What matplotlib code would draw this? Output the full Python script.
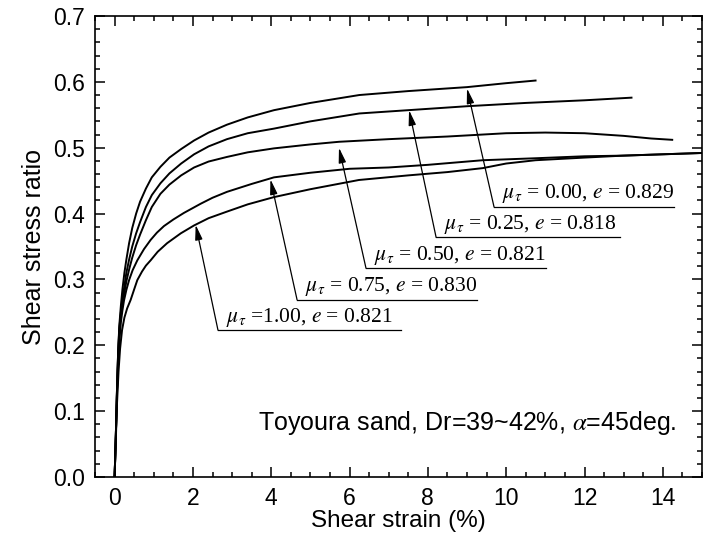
import matplotlib
matplotlib.use('Agg')
import matplotlib.pyplot as plt
import numpy as np

plt.rcParams['font.family'] = ['Liberation Sans', 'DejaVu Sans']
plt.rcParams['mathtext.fontset'] = 'stix'

# strain (%) / stress ratio
x_mu000 = [0, 0.03, 0.06, 0.09, 0.12, 0.16, 0.2, 0.25, 0.3, 0.37, 0.45, 0.55, 0.65, 0.8, 0.95, 1.17, 1.4, 1.7,
           2.03, 2.4, 2.87, 3.4, 4.07, 5.0, 6.25, 7.5, 9.0, 10.0, 10.75]
y_mu000 = [0, 0.06, 0.13, 0.19, 0.23, 0.26, 0.285, 0.31, 0.33, 0.355, 0.378, 0.4, 0.418, 0.438, 0.455, 0.471, 0.485, 0.498,
           0.511, 0.523, 0.535, 0.546, 0.557, 0.568, 0.58, 0.586, 0.592, 0.598, 0.602]

x_mu025 = [0, 0.03, 0.06, 0.09, 0.12, 0.16, 0.2, 0.25, 0.3, 0.37, 0.45, 0.55, 0.65, 0.8, 0.95, 1.17, 1.4, 1.7,
           2.03, 2.4, 2.87, 3.4, 4.07, 5.0, 6.25, 7.5, 9.0, 10.5, 12.0, 13.2]
y_mu025 = [0, 0.06, 0.13, 0.19, 0.225, 0.25, 0.27, 0.29, 0.31, 0.33, 0.35, 0.37, 0.387, 0.41, 0.428, 0.446, 0.461, 0.476,
           0.49, 0.502, 0.513, 0.522, 0.529, 0.54, 0.552, 0.557, 0.563, 0.568, 0.572, 0.576]

x_mu050 = [0, 0.03, 0.06, 0.09, 0.12, 0.16, 0.2, 0.25, 0.3, 0.37, 0.45, 0.55, 0.65, 0.8, 0.95, 1.17, 1.4, 1.7,
           2.03, 2.4, 2.87, 3.4, 4.07, 5.0, 5.73, 7.0, 8.5, 10.0, 11.0, 12.0, 13.0, 13.7, 14.24]
y_mu050 = [0, 0.06, 0.13, 0.185, 0.22, 0.245, 0.262, 0.28, 0.297, 0.315, 0.333, 0.352, 0.368, 0.39, 0.41, 0.43, 0.444, 0.458,
           0.47, 0.479, 0.486, 0.493, 0.499, 0.505, 0.509, 0.513, 0.517, 0.522, 0.523, 0.522, 0.518, 0.514, 0.512]

x_mu075 = [0, 0.03, 0.06, 0.09, 0.12, 0.16, 0.2, 0.24, 0.3, 0.37, 0.46, 0.58, 0.75, 0.92, 1.08, 1.26, 1.5, 1.77,
           2.2, 2.5, 2.87, 3.5, 4.07, 5.0, 6.0, 7.0, 8.0, 9.4, 10.75, 12.0, 13.0, 14.0, 15.0]
y_mu075 = [0, 0.06, 0.125, 0.175, 0.205, 0.235, 0.253, 0.268, 0.284, 0.299, 0.314, 0.329, 0.346, 0.36, 0.371, 0.381, 0.391, 0.401,
           0.415, 0.424, 0.433, 0.445, 0.455, 0.462, 0.468, 0.47, 0.474, 0.481, 0.484, 0.487, 0.488, 0.49, 0.492]

x_mu100 = [0, 0.03, 0.06, 0.1, 0.14, 0.19, 0.25, 0.32, 0.41, 0.5, 0.58, 0.7, 0.8, 0.92, 1.1, 1.34, 1.69,
           2.03, 2.4, 2.87, 3.4, 4.07, 5.0, 6.24, 7.5, 8.5, 9.4, 10.0, 10.75, 12.0, 13.0, 14.0, 15.0]
y_mu100 = [0, 0.055, 0.11, 0.16, 0.195, 0.223, 0.242, 0.256, 0.269, 0.285, 0.299, 0.312, 0.321, 0.329, 0.342, 0.355, 0.37,
           0.382, 0.393, 0.403, 0.414, 0.425, 0.437, 0.451, 0.458, 0.463, 0.469, 0.476, 0.481, 0.485, 0.488, 0.49, 0.492]

curves = [(x_mu000, y_mu000), (x_mu025, y_mu025), (x_mu050, y_mu050),
          (x_mu075, y_mu075), (x_mu100, y_mu100)]

labels = [r'$\mu_\tau$ = 0.00, $e$ = 0.829',
          r'$\mu_\tau$ = 0.25, $e$ = 0.818',
          r'$\mu_\tau$ = 0.50, $e$ = 0.821',
          r'$\mu_\tau$ = 0.75, $e$ = 0.830',
          r'$\mu_\tau$ =1.00, $e$ = 0.821']
# arrow tips on the curves, and the underline under each label
tip_x = [9.0, 7.52, 5.73, 3.98, 2.07]
tip_y = [0.59, 0.557, 0.50, 0.452, 0.383]
line_x0 = [9.69, 8.21, 6.42, 4.66, 2.64]
line_x1 = [14.29, 12.9, 11.02, 9.25, 7.31]
line_y = [0.410, 0.364, 0.317, 0.269, 0.223]

fig = plt.figure(figsize=(7.06, 5.35), dpi=100)
ax = fig.add_axes([0.1346, 0.1084, 0.8597, 0.8617])

for cx, cy in curves:
    ax.plot(cx, cy, color='black', lw=1.4)

for i in range(len(labels)):
    ax.plot([line_x0[i], line_x1[i]], [line_y[i], line_y[i]], color='black', lw=0.9)
    ax.annotate('', xy=(tip_x[i], tip_y[i]), xytext=(line_x0[i], line_y[i]),
                arrowprops=dict(arrowstyle='-|>,head_length=0.9,head_width=0.22',
                                color='black', lw=0.9, shrinkA=0, shrinkB=0))
    ax.text(line_x0[i] + 0.2, line_y[i] + 0.013, labels[i], fontsize=15.5,
            family='Liberation Serif', ha='left', va='baseline')

ax.text(14.36, 0.082, r'Toyoura sand, Dr=39~42%, $\alpha$=45deg.', fontsize=18,
        ha='right', va='center')

ax.set_xlim(-0.5, 15)
ax.set_ylim(0, 0.7)
ax.set_xticks(np.arange(0, 15, 2))
ax.set_xticks(np.arange(-0.5, 15.01, 0.5), minor=True)
ax.set_yticks(np.arange(0, 0.71, 0.1))
ax.set_yticks(np.arange(0, 0.701, 0.02), minor=True)
ax.yaxis.set_major_formatter(matplotlib.ticker.FormatStrFormatter('%.1f'))
ax.tick_params(which='both', direction='in', top=True, right=True, labelsize=16.5, width=1.1)
ax.tick_params(which='major', length=7)
ax.tick_params(axis='x', which='major', pad=7)
ax.tick_params(axis='y', which='major', pad=7)
ax.tick_params(which='minor', length=3.5)
for s in ax.spines.values():
    s.set_linewidth(1.2)

ax.set_xlabel('Shear strain (%)', fontsize=17.5, labelpad=0)
ax.set_ylabel('Shear stress ratio', fontsize=18, labelpad=5)

fig.savefig('out.png', dpi=100)
